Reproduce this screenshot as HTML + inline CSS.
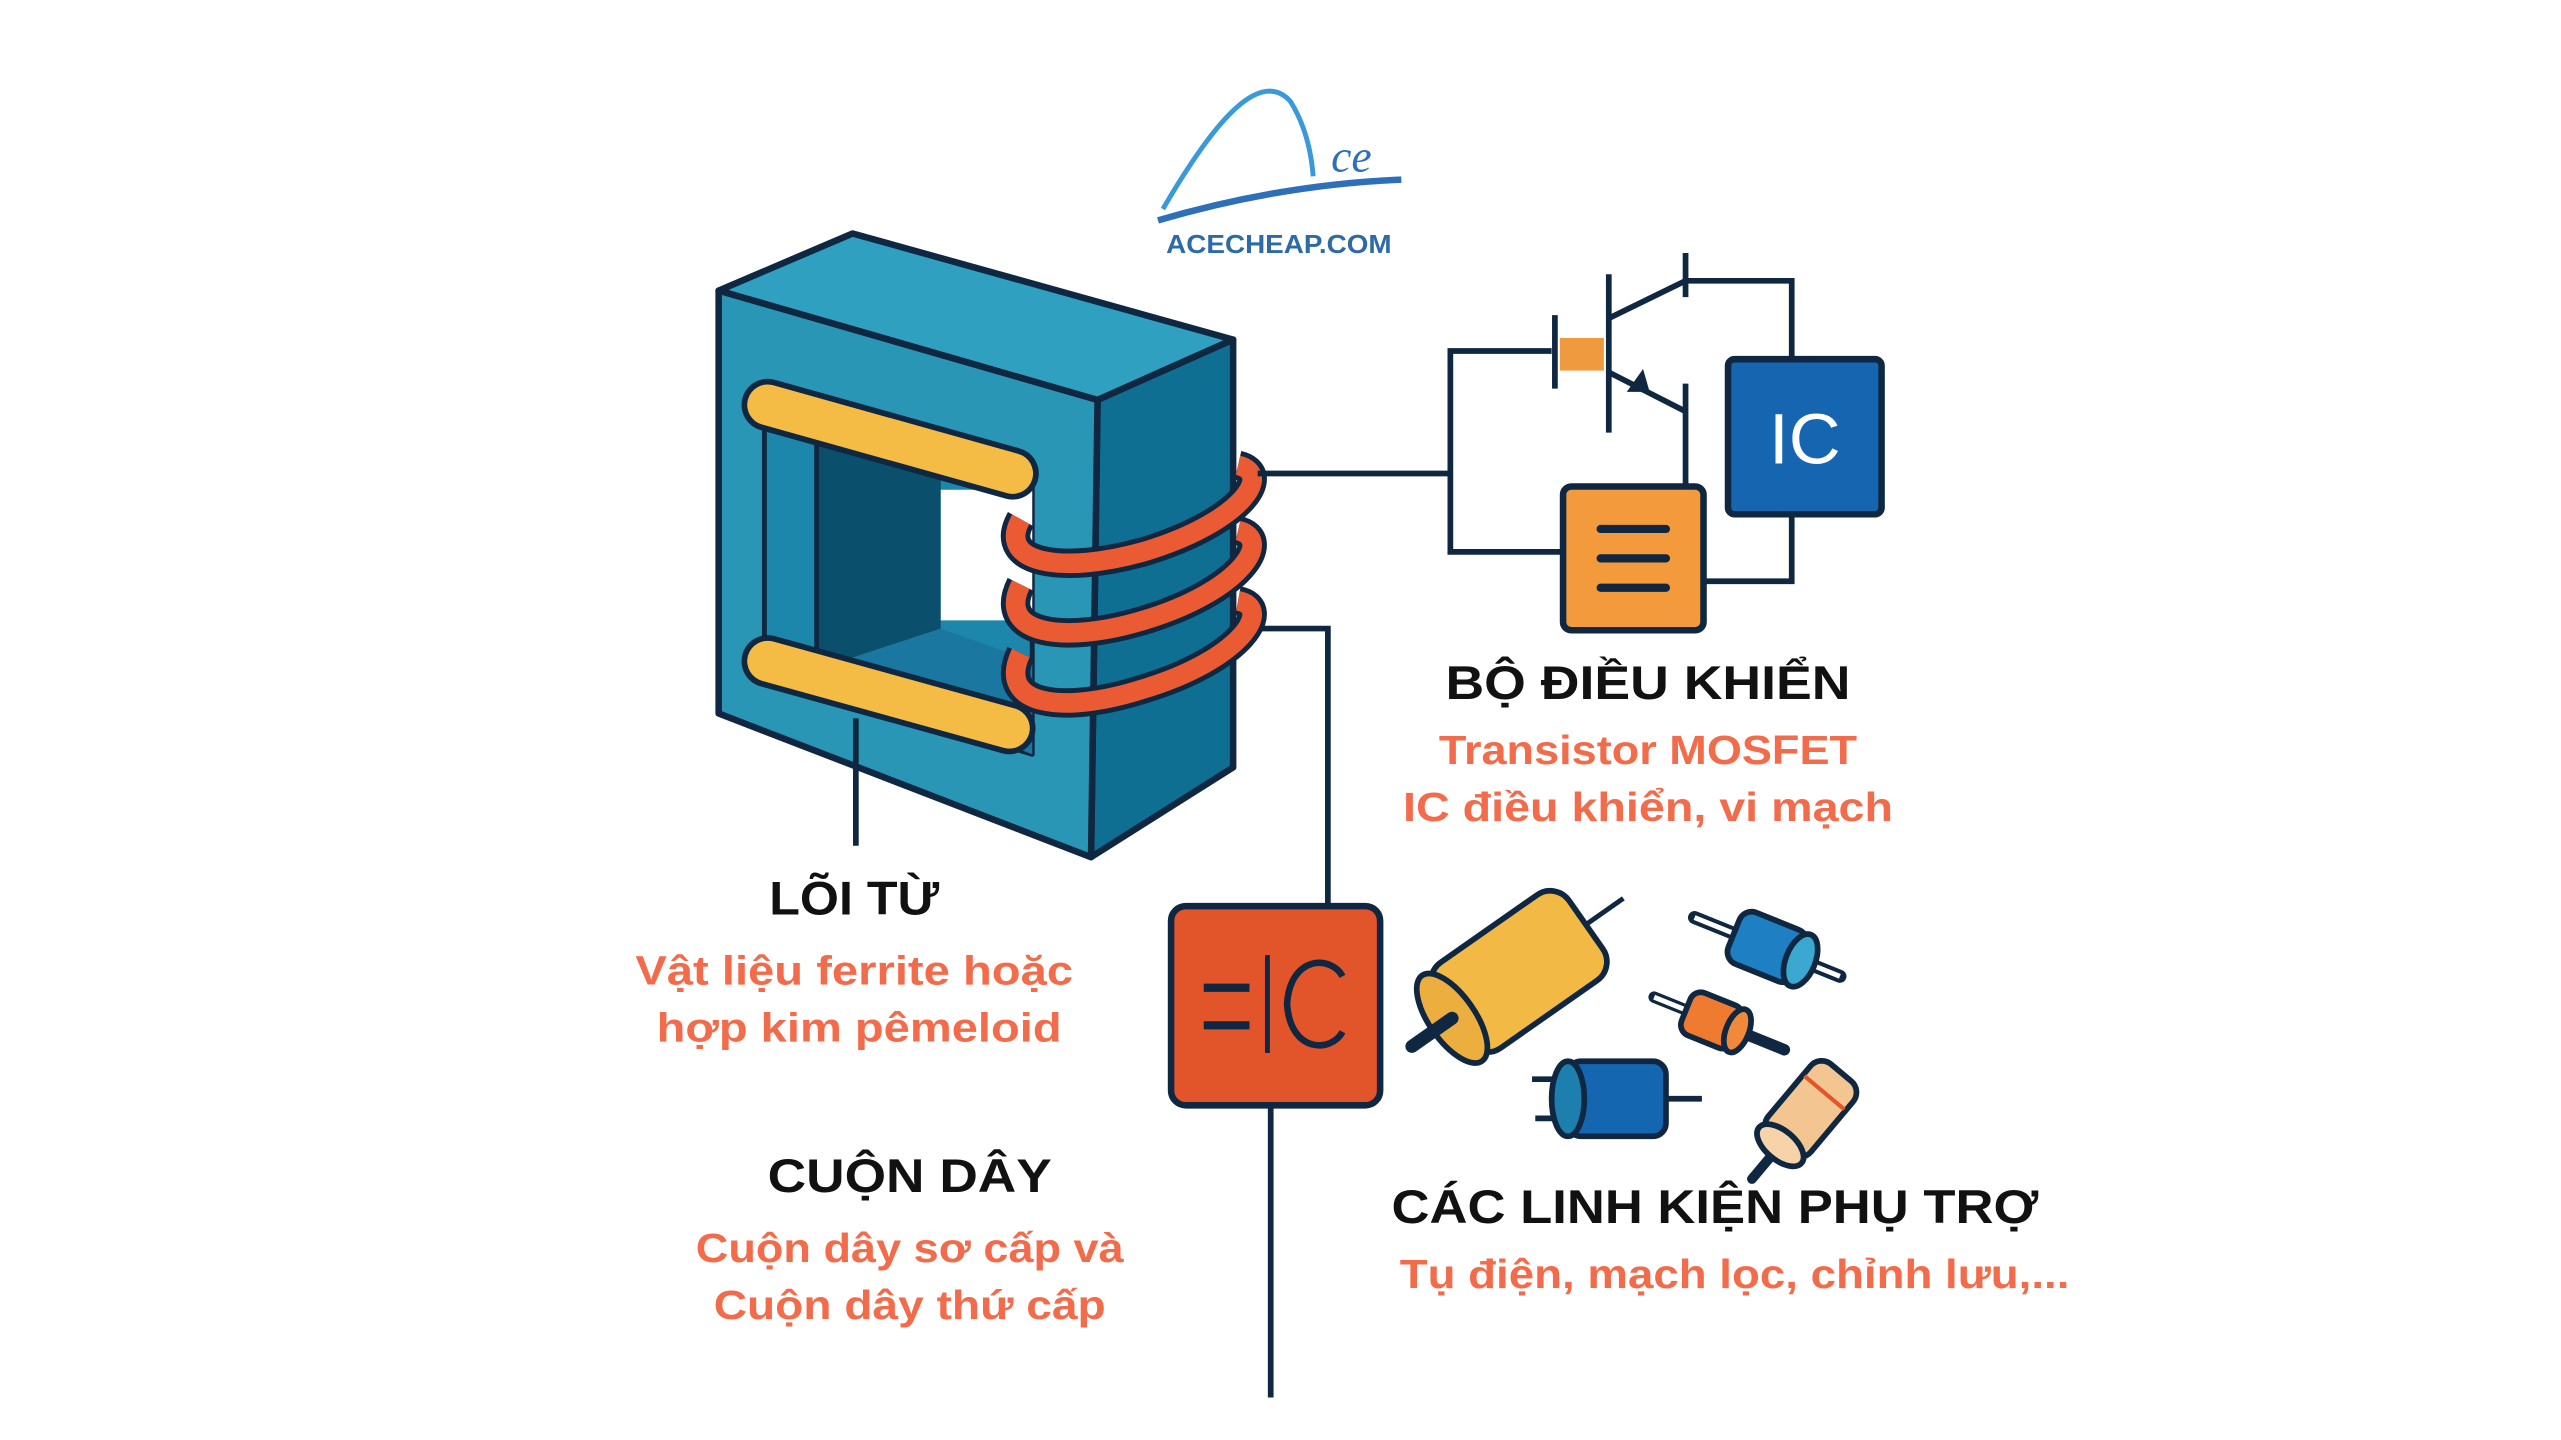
<!DOCTYPE html>
<html><head><meta charset="utf-8"><style>
html,body{margin:0;padding:0;background:#fff;}
svg{display:block;}
</style></head><body>
<svg width="2561" height="1440" viewBox="0 0 1568 882" preserveAspectRatio="none" xmlns="http://www.w3.org/2000/svg" font-family="'Liberation Sans', 'Noto Sans CJK SC', sans-serif">
<rect width="1568" height="882" fill="#fff"/>
<!-- logo -->
<path d="M712,128 C740,80 770,40 790,62 C800,78 803,95 804,108" fill="none" stroke="#3a9ad9" stroke-width="3"/>
<path d="M709,135 C760,120 810,112 858,110" fill="none" stroke="#2d6fb8" stroke-width="4"/>
<text x="815" y="105" font-family="'Liberation Serif', serif" font-style="italic" font-size="28" fill="#2d6fb8">ce</text>
<text x="783" y="155" text-anchor="middle" font-size="16" font-weight="bold" fill="#2d6aa8" textLength="138" lengthAdjust="spacingAndGlyphs">ACECHEAP.COM</text>

<g stroke="#0f2740" stroke-width="4" stroke-linejoin="round">
<!-- core -->
<polygon points="440,178 522,143 755,208 672,245" fill="#2fa0c0"/>
<polygon points="672,245 755,208 755,470 668,525" fill="#0f6f93"/>
<polygon points="440,178 672,245 668,525 440,437" fill="#2a96b6"/>
<polygon points="468,240 632,290 632,462 468,412" fill="#1c86ab" stroke-width="3"/>
<polygon points="500,258 576,282 576,385 500,410" fill="#0a4f6c" stroke="none"/>
<polygon points="576,300 632,300 632,380 576,380" fill="#fff" stroke="none"/>
<polygon points="500,410 576,385 632,405 632,462" fill="#1a78a0" stroke="none"/>
<line x1="500" y1="258" x2="500" y2="410" stroke-width="3"/>
</g>
<!-- yellow bars -->
<path d="M470,248 L620,290" stroke="#0f2740" stroke-width="32" stroke-linecap="round"/>
<path d="M470,248 L620,290" stroke="#f4bb45" stroke-width="25" stroke-linecap="round"/>
<path d="M470,405 L618,446" stroke="#0f2740" stroke-width="32" stroke-linecap="round"/>
<path d="M470,405 L618,446" stroke="#f4bb45" stroke-width="25" stroke-linecap="round"/>
<!-- coils -->
<g fill="none">
<path d="M625,318 C610,345 650,352 700,338 C760,320 780,290 758,285" stroke="#0f2740" stroke-width="18"/>
<path d="M625,318 C610,345 650,352 700,338 C760,320 780,290 758,285" stroke="#ea5b34" stroke-width="12"/>
<path d="M625,358 C610,388 650,395 700,380 C760,362 780,330 758,325" stroke="#0f2740" stroke-width="18"/>
<path d="M625,358 C610,388 650,395 700,380 C760,362 780,330 758,325" stroke="#ea5b34" stroke-width="12"/>
<path d="M625,400 C610,432 650,438 700,422 C760,404 780,372 758,368" stroke="#0f2740" stroke-width="18"/>
<path d="M625,400 C610,432 650,438 700,422 C760,404 780,372 758,368" stroke="#ea5b34" stroke-width="12"/>
</g>
<!-- wires -->
<g stroke="#0f2740" stroke-width="3.5" fill="none">
<polyline points="770,290 888,290"/>
<polyline points="950,215 888,215 888,338 957,338"/>
<line x1="952" y1="193" x2="952" y2="238"/>
<line x1="985" y1="168" x2="985" y2="265"/>
<line x1="985" y1="195" x2="1032" y2="172"/>
<line x1="1032" y1="155" x2="1032" y2="182"/>
<polyline points="1032,172 1097,172 1097,220"/>
<line x1="985" y1="228" x2="1032" y2="252"/>
<line x1="1032" y1="235" x2="1032" y2="298"/>
<polyline points="1043,356 1097,356 1097,315"/>
<polyline points="772,385 813,385 813,555"/>
<line x1="778" y1="677" x2="778" y2="856"/>
<line x1="524" y1="440" x2="524" y2="518"/>
</g>
<polygon points="1006,226 996,240 1010,240" fill="#0f2740"/>
<rect x="955" y="207" width="27" height="20" fill="#ef9a3f"/>
<!-- IC box -->
<rect x="1058" y="220" width="94" height="95" rx="4" fill="#1565b0" stroke="#0f2740" stroke-width="4"/>
<text x="1105" y="284" text-anchor="middle" font-size="44" fill="#fff">IC</text>
<!-- orange box -->
<rect x="957" y="298" width="86" height="88" rx="5" fill="#f39a3d" stroke="#0f2740" stroke-width="4"/>
<g stroke="#0f2740" stroke-width="5" stroke-linecap="round"><line x1="980" y1="324" x2="1020" y2="324"/><line x1="980" y1="342" x2="1020" y2="342"/><line x1="980" y1="360" x2="1020" y2="360"/></g>
<!-- capacitor box -->
<rect x="717" y="555" width="128" height="122" rx="9" fill="#e2542a" stroke="#0f2740" stroke-width="4"/>
<g stroke="#0f2740" stroke-width="5"><line x1="737" y1="605" x2="765" y2="605"/><line x1="737" y1="628" x2="765" y2="628"/><line x1="776" y1="585" x2="776" y2="645" stroke-width="3"/></g>
<path d="M822,598 C815,585 790,585 788,615 C790,645 815,645 822,632" fill="none" stroke="#0f2740" stroke-width="4"/>
<!-- components -->
<g stroke="#0f2740" stroke-width="3.5">
<g transform="translate(930,595) rotate(-35)">
<line x1="50" y1="0" x2="78" y2="0" stroke-width="3"/>
<rect x="-50" y="-32" width="100" height="64" rx="14" fill="#f2b944"/>
<ellipse cx="-50" cy="0" rx="14" ry="32" fill="#ecae3e"/>
<line x1="-50" y1="0" x2="-80" y2="0" stroke-width="8" stroke-linecap="round"/>
</g>
<g transform="translate(1082,580) rotate(22)">
<line x1="-48" y1="0" x2="48" y2="0" stroke-width="8" stroke-linecap="round"/>
<line x1="-48" y1="0" x2="48" y2="0" stroke="#fff" stroke-width="3"/>
<rect x="-22" y="-17" width="44" height="34" rx="8" fill="#1e7fc2"/>
<ellipse cx="22" cy="0" rx="9" ry="17" fill="#3aa8d0"/>
</g>
<g transform="translate(1048,625) rotate(22)">
<line x1="-38" y1="0" x2="48" y2="0" stroke-width="7" stroke-linecap="round"/>
<line x1="-38" y1="0" x2="-10" y2="0" stroke="#fff" stroke-width="3"/>
<rect x="-17" y="-14" width="34" height="28" rx="7" fill="#ee7b30"/>
<ellipse cx="17" cy="0" rx="7" ry="14" fill="#f08a3a"/>
</g>
<g transform="translate(990,673)">
<line x1="-52" y1="-12" x2="-28" y2="-12"/><line x1="-50" y1="12" x2="-28" y2="12"/>
<line x1="28" y1="0" x2="52" y2="0"/>
<rect x="-30" y="-23" width="60" height="46" rx="8" fill="#1566b0"/>
<ellipse cx="-30" cy="0" rx="10" ry="23" fill="#1d7fae"/>
</g>
<g transform="translate(1108,680) rotate(-50)">
<line x1="-55" y1="0" x2="-25" y2="0" stroke-width="6" stroke-linecap="round"/>
<rect x="-28" y="-17" width="58" height="34" rx="9" fill="#f3c590"/>
<line x1="14" y1="-16" x2="14" y2="16" stroke="#e2542a" stroke-width="2.5"/>
<ellipse cx="-28" cy="0" rx="9" ry="17" fill="#f6d3a8"/>
</g>
</g>
<!-- texts -->
<g font-weight="bold" text-anchor="middle">
<text x="523" y="560" font-size="29" fill="#111" textLength="104" lengthAdjust="spacingAndGlyphs">LÕI TỪ</text>
<text x="523" y="603" font-size="25" fill="#f26b4a" textLength="268" lengthAdjust="spacingAndGlyphs">Vật liệu ferrite hoặc</text>
<text x="526" y="638" font-size="25" fill="#f26b4a" textLength="248" lengthAdjust="spacingAndGlyphs">hợp kim pêmeloid</text>
<text x="557" y="730" font-size="29" fill="#111" textLength="174" lengthAdjust="spacingAndGlyphs">CUỘN DÂY</text>
<text x="557" y="773" font-size="25" fill="#f26b4a" textLength="262" lengthAdjust="spacingAndGlyphs">Cuộn dây sơ cấp và</text>
<text x="557" y="808" font-size="25" fill="#f26b4a" textLength="240" lengthAdjust="spacingAndGlyphs">Cuộn dây thứ cấp</text>
<text x="1009" y="428" font-size="29" fill="#111" textLength="248" lengthAdjust="spacingAndGlyphs">BỘ ĐIỀU KHIỂN</text>
<text x="1009" y="468" font-size="25" fill="#f26b4a" textLength="256" lengthAdjust="spacingAndGlyphs">Transistor MOSFET</text>
<text x="1009" y="503" font-size="25" fill="#f26b4a" textLength="300" lengthAdjust="spacingAndGlyphs">IC điều khiển, vi mạch</text>
<text x="1050" y="749" font-size="29" fill="#111" textLength="396" lengthAdjust="spacingAndGlyphs">CÁC LINH KIỆN PHỤ TRỢ</text>
<text x="1062" y="789" font-size="25" fill="#f26b4a" textLength="410" lengthAdjust="spacingAndGlyphs">Tụ điện, mạch lọc, chỉnh lưu,...</text>
</g>
</svg>
</body></html>
